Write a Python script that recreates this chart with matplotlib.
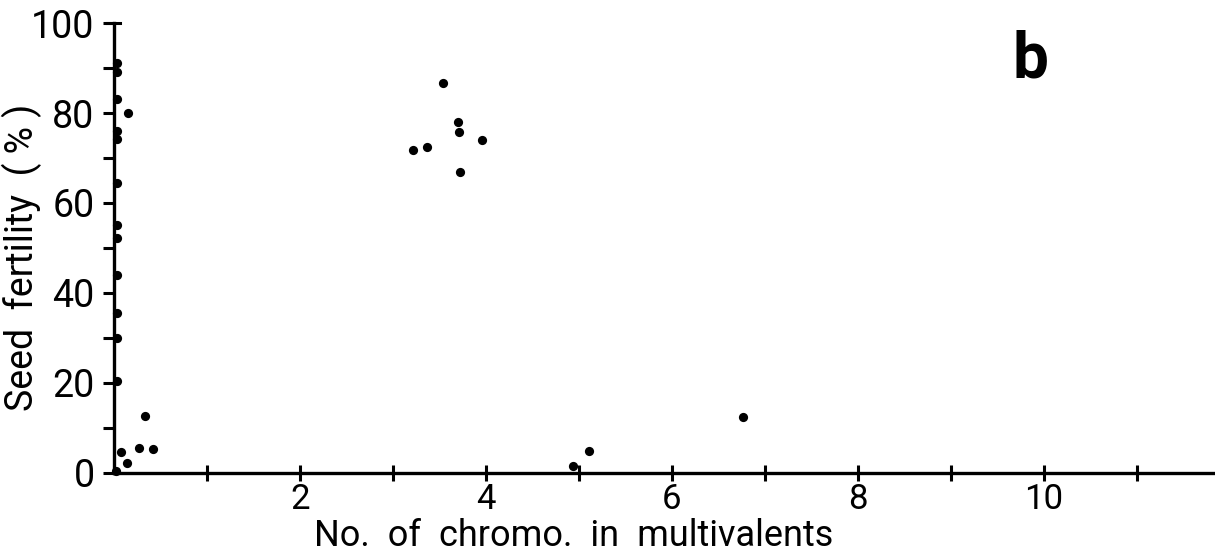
"""Seed fertility vs. number of chromosomes in multivalents (panel b)."""

import matplotlib

matplotlib.use("Agg")
import matplotlib.pyplot as plt
from matplotlib.ticker import MultipleLocator, FixedLocator

# points sitting on (or right next to) the y axis
axis_x = [0.03, 0.03, 0.03, 0.03, 0.03, 0.03, 0.03, 0.03, 0.03, 0.03, 0.03, 0.03, 0.08, 0.14, 0.02]
axis_y = [91.1, 89.1, 83.1, 76.0, 74.2, 64.4, 55.1, 52.2, 44.0, 35.5, 30.0, 20.4, 4.7, 2.2, 0.4]

# the remaining scattered points
other_x = [0.15, 0.33, 0.27, 0.42, 3.22, 3.37, 3.54, 3.70, 3.71, 3.72, 3.96, 4.94, 5.11, 6.76]
other_y = [80.0, 12.7, 5.6, 5.3, 71.8, 72.4, 86.7, 78.0, 75.8, 66.9, 74.0, 1.5, 4.9, 12.5]

x_labelled = [2, 4, 6, 8, 10]
y_labelled = [0, 20, 40, 60, 80, 100]

plt.rcParams["font.family"] = ["Roboto", "DejaVu Sans"]

fig = plt.figure(figsize=(12.15, 5.53), dpi=100)
ax = fig.add_axes([0.0938, 0.1447, 0.9062, 0.8137])

ax.scatter(axis_x + other_x, axis_y + other_y, s=44, color="black",
           linewidths=0, clip_on=False, zorder=3)

ax.set_xlim(0, 11.84)
ax.set_ylim(0, 100)

for side in ("top", "right"):
    ax.spines[side].set_visible(False)
for side in ("left", "bottom"):
    ax.spines[side].set_linewidth(2.4)

# x: ticks at every unit, labels only on even numbers
ax.xaxis.set_major_locator(FixedLocator(x_labelled))
ax.xaxis.set_minor_locator(FixedLocator([1, 3, 5, 7, 9, 11]))
ax.set_xticklabels([str(v) for v in x_labelled])
ax.tick_params(axis="x", which="both", direction="inout", length=12,
               width=2.2, pad=1, labelsize=25)

# y: labelled every 20, minor ticks every 10
ax.set_yticks(y_labelled)
ax.yaxis.set_minor_locator(MultipleLocator(10))
ax.tick_params(axis="y", which="both", direction="out", length=8,
               width=2.2, pad=6, labelsize=27)

# little cap at the top of the y axis
ax.plot([-0.07, 0.07], [100, 100], color="black", lw=2.2, clip_on=False)

ax.set_xlabel("No.  of  chromo.  in  multivalents", fontsize=26)
ax.xaxis.label.set_verticalalignment("baseline")
ax.xaxis.set_label_coords(0.4174, -0.163)
ax.set_ylabel("Seed  fertility  ( % )", fontsize=27)
ax.yaxis.set_label_coords(-0.065, 0.48)

fig.text(0.8485, 0.892, "b", fontsize=46, fontweight="bold",
         ha="center", va="center")

fig.savefig("out.png", dpi=100)
